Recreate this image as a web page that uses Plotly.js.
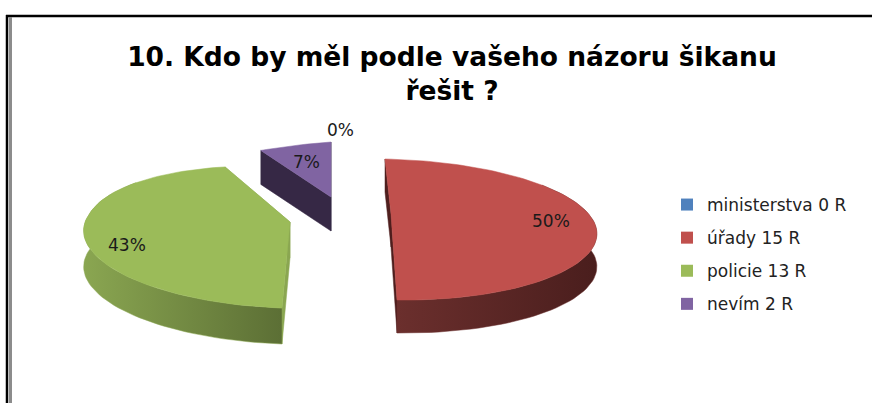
<!DOCTYPE html>
<html>
<head>
<meta charset="utf-8">
<script src="https://cdn.plot.ly/plotly-3.0.1.min.js"></script>
<style>html,body{margin:0;padding:0;background:#fff}#chart{width:872px;height:403px}</style>
</head>
<body>
<div id="chart"></div>
<script>
// --- data ---
const categories = ['ministerstva 0 R', 'úřady 15 R', 'policie 13 R', 'nevím 2 R'];
const values = [0, 15, 13, 2];
const titleText = '10. Kdo by měl podle vašeho názoru šikanu<br>řešit ?';

// --- styles ---
const topColors = ['#4F81BD', '#C0504D', '#9BBB59', '#8064A2'];
const wallColors = [
  ['#2f4d71', '#2f4d71'],
  ['#6b2f2d', '#4a1e1d'],
  ['#8aa651', '#5c6f35'],
  ['#362845', '#362845']
];
const cutColors = ['#2f4d71', '#4f1f1e', '#8aa651', '#362845'];

// --- projection of the tilted pie (units are plot pixels) ---
const RX = 200, RY = 70.5, PERSP = 0.22;
const explode = [
  {ax: 331, ay: 197, wide: 1, leanBack: 0, leanFront: 0, tilt: 0, depth: 34},
  {ax: 391, ay: 214, wide: 1, leanBack: 6, leanFront: 6, tilt: 3, depth: 33},
  {ax: 290, ay: 222, wide: 1, leanBack: 0, leanFront: -8, tilt: 9, depth: 36},
  {ax: 331, ay: 197, wide: 1.08, leanBack: 0, leanFront: 0, tilt: -12, depth: 34}
];
const labelNudge = [[9, -12], [0, 5], [2, 18], [0, 1]];
const labelRadius = [1, 0.8, 0.8, 0.7];
const total = values.reduce((a, b) => a + b, 0);

function rimPoint(i, deg, f) {
  const g = explode[i], t = deg * Math.PI / 180, s = Math.sin(t), p = Math.cos(t), k = 1 - PERSP * p;
  const lean = p > 0 ? g.leanBack : g.leanFront;
  return [g.ax + f * (RX * g.wide * s * k - lean * p), g.ay - f * (RY * p * k - g.tilt * s)];
}
function arc(i, a, b) {
  const pts = [], n = Math.max(2, Math.ceil(Math.abs(b - a) / 2));
  for (let j = 0; j <= n; j++) pts.push(rimPoint(i, a + (b - a) * j / n, 1));
  return pts;
}
function poly(pts, color, extra) {
  return Object.assign({
    type: 'scatter', mode: 'lines', x: pts.map(q => q[0]), y: pts.map(q => q[1]),
    fill: 'toself', fillcolor: color, line: {width: 0.5, color: color},
    hoverinfo: 'skip', showlegend: false
  }, extra || {});
}

const traces = [], annotations = [];
let cum = 0;
values.forEach((v, i) => {
  const a0 = cum / total * 360, a1 = (cum + v) / total * 360;
  cum += v;
  const g = explode[i];
  const mid = (a0 + a1) / 2;
  const lp = rimPoint(i, mid, labelRadius[i]);
  annotations.push({
    x: lp[0] + labelNudge[i][0], y: lp[1] + labelNudge[i][1], xref: 'x', yref: 'y', showarrow: false,
    text: Math.round(v / total * 100) + '%',
    font: {family: 'DejaVu Sans, sans-serif', size: 17, color: '#1a1a1a'}
  });
  if (v === 0) return;
  const apex = [g.ax, g.ay];
  const down = q => [q[0], q[1] + g.depth];
  // cut faces, extruded straight down
  [a0, a1].forEach(a => {
    const r = rimPoint(i, a, 1);
    traces.push(poly([apex, r, down(r), down(apex), apex], cutColors[i]));
  });
  // outer wall: the part of the rim that faces the viewer
  const wa0 = Math.max(a0, 60), wa1 = Math.min(a1, 300);
  if (wa1 > wa0) {
    const rim = arc(i, wa0, wa1);
    const wall = rim.concat(rim.slice().reverse().map(down));
    wall.push(wall[0]);
    traces.push(poly(wall, wallColors[i][0], {
      fillgradient: {type: 'horizontal', colorscale: [[0, wallColors[i][0]], [1, wallColors[i][1]]]}
    }));
  }
  // top surface
  const top = [apex].concat(arc(i, a0, a1));
  top.push(apex);
  traces.push(poly(top, topColors[i]));
});

// legend entries
categories.forEach((c, i) => traces.push({
  type: 'scatter', mode: 'markers', x: [null], y: [null], name: c, legendgroup: 'g' + i,
  marker: {symbol: 'square', size: 12, color: topColors[i]}, hoverinfo: 'skip'
}));

const layout = {
  width: 872, height: 403,
  margin: {l: 0, r: 0, t: 0, b: 0},
  paper_bgcolor: '#fff', plot_bgcolor: '#fff',
  title: {
    text: titleText, x: 452 / 872, xanchor: 'center', xref: 'paper',
    y: 1 - 66 / 403, yanchor: 'top', yref: 'paper',
    font: {family: 'DejaVu Sans, sans-serif', size: 26.5, color: '#000', weight: 'bold'}
  },
  xaxis: {range: [0, 872], visible: false, fixedrange: true},
  yaxis: {range: [403, 0], visible: false, fixedrange: true},
  legend: {
    x: 667 / 872, y: 1 - 187 / 403, xanchor: 'left', yanchor: 'top',
    font: {family: 'DejaVu Sans, sans-serif', size: 17, color: '#222'},
    tracegroupgap: 8, itemclick: false, itemdoubleclick: false, bgcolor: 'rgba(0,0,0,0)'
  },
  showlegend: true,
  annotations,
  shapes: [
    {type: 'line', xref: 'paper', yref: 'paper', x0: 6 / 872, x1: 1, y0: 1 - 16 / 403, y1: 1 - 16 / 403, line: {color: '#000', width: 2.5}},
    {type: 'line', xref: 'paper', yref: 'paper', x0: 7 / 872, x1: 7 / 872, y0: 0, y1: 1 - 15 / 403, line: {color: '#000', width: 2.5}},
    {type: 'line', xref: 'paper', yref: 'paper', x0: 10.5 / 872, x1: 10.5 / 872, y0: 0, y1: 1 - 17 / 403, line: {color: '#8c8c8c', width: 3}}
  ]
};
Plotly.newPlot('chart', traces, layout, {displayModeBar: false});
</script>
</body>
</html>
